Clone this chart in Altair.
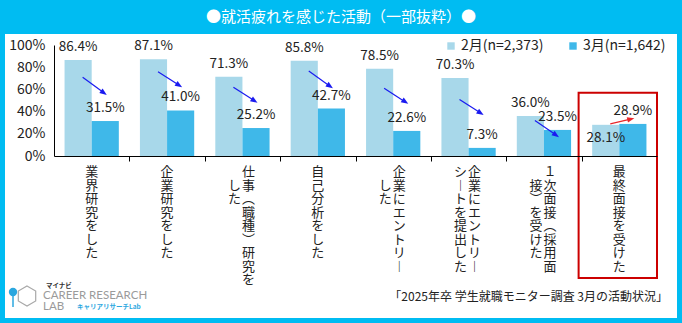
import math
import altair as alt
import pandas as pd

# ---------------- data ----------------
categories = [
    "業界研究をした",
    "企業研究をした",
    "仕事(職種)研究をした",
    "自己分析をした",
    "企業にエントリーした",
    "企業にエントリーシートを提出した",
    "1次面接(採用面接)を受けた",
    "最終面接を受けた",
]
# vertical label columns (right column first, as in Japanese vertical writing)
label_columns = [
    ["業界研究をした"],
    ["企業研究をした"],
    ["仕事︵職種︶研究を", "した"],
    ["自己分析をした"],
    ["企業にエントリ︱", "した"],
    ["企業にエントリ︱", "シ︱トを提出した"],
    ["１次面接︵採用面", "接︶を受けた"],
    ["最終面接を受けた"],
]
series_names = ["2月(n=2,373)", "3月(n=1,642)"]
feb_values = [86.4, 87.1, 71.3, 85.8, 78.5, 70.3, 36.0, 28.1]
mar_values = [31.5, 41.0, 25.2, 42.7, 22.6, 7.3, 23.5, 28.9]
y_ticks = [0, 20, 40, 60, 80, 100]
# arrow annotations (start / end heights in % units)
arrow_start = [71, 76, 62, 76.5, 61, 51, 32, 29]
arrow_end = [55, 62, 48, 61, 47, 37, 17, 34]
highlight_index = 7

title_text = "●就活疲れを感じた活動（一部抜粋）●"
source_text = "「2025年卒 学生就職モニター調査 3月の活動状況」"

# ---------------- style ----------------
FONT = "Noto Sans CJK JP"
LIGHT = "#A8D8EA"
DARK = "#3FB8E9"
FRAME = "#00BCF2"
W, H = 603, 111
PXX = W / len(categories)   # px per category unit
PXY = H / 100.0             # px per percent

# ---------------- tables ----------------
rows = []
for i in range(len(categories)):
    rows.append(dict(idx=i, cat=categories[i], s=0, series=series_names[0],
                     value=feb_values[i], below=mar_values[i] > feb_values[i]))
    rows.append(dict(idx=i, cat=categories[i], s=1, series=series_names[1],
                     value=mar_values[i], below=False))
df = pd.DataFrame(rows)

arrows = []
for i in range(len(categories)):
    xs, xe = i + 0.38, i + 0.70
    ys, ye = arrow_start[i], arrow_end[i]
    vx = (xe - xs) * PXX
    vy = (ys - ye) * PXY
    ang = math.degrees(math.atan2(vx, -vy)) % 360
    th = math.radians(ang)
    xh = xe - 4 * math.sin(th) / PXX
    yh = ye - 4 * math.cos(th) / PXY
    col = "#E8262A" if mar_values[i] > feb_values[i] else "#1A1AF0"
    arrows.append(dict(idx=i, xs=xs, ys=ys, xh=xh, yh=yh, ang=ang, col=col))
adf = pd.DataFrame(arrows)

lab = []
for i, cols in enumerate(label_columns):
    if len(cols) == 1:
        lab.append(dict(x=i + 0.5, pos="single", t="\n".join(cols[0])))
    else:
        r, l = cols
        off = (len(r) - len(l)) // 2
        lab.append(dict(x=i + 0.5, pos="right", t="\n".join(r)))
        lab.append(dict(x=i + 0.5, pos="left", t="\n".join(["\u3000"] * off + list(l))))
ldf = pd.DataFrame(lab)

xscale = alt.Scale(domain=[0, len(categories)], nice=False, zero=False)
yscale = alt.Scale(domain=[0, 100], nice=False, zero=False)
X_AXIS = alt.Axis(values=list(range(1, len(categories))), labels=False,
                  title=None, grid=False, ticks=True, tickSize=5,
                  tickColor="black", domainColor="black", zindex=1)
Y_AXIS = alt.Axis(values=y_ticks, title=None, grid=False, ticks=False,
                  labelExpr="datum.value + '%'", labelFontSize=14,
                  labelFont=FONT, labelColor="#222", labelPadding=9,
                  labelOverlap=False, labelFlush=False,
                  domainColor="black", zindex=1)


def X(f):
    return alt.X(f, scale=xscale, axis=X_AXIS, title=None)


def Y(f):
    return alt.Y(f, scale=yscale, axis=Y_AXIS, title=None)


# ---------------- layers ----------------
frame_bg = alt.Chart(pd.DataFrame({"a": [0]})).mark_rect(color="white").encode(
    x=alt.value(-49), x2=alt.value(623), y=alt.value(-11), y2=alt.value(273)
)

base = alt.Chart(df).transform_calculate(
    x0="datum.idx + (datum.s == 0 ? 0.14 : 0.5)",
    x1="datum.idx + (datum.s == 0 ? 0.5 : 0.86)",
    xc="datum.idx + (datum.s == 0 ? 0.32 : 0.68)",
    lbl="format(datum.value, '.1f') + '%'",
)

bars = base.mark_rect().encode(
    x=X("x0:Q"),
    x2="x1:Q",
    y=Y("value:Q"),
    y2=alt.datum(0),
    color=alt.Color("series:N",
                    scale=alt.Scale(domain=series_names, range=[LIGHT, DARK]),
                    legend=alt.Legend(orient="none", legendX=390, legendY=-6,
                                      direction="horizontal", title=None,
                                      symbolType="square", symbolSize=55,
                                      symbolStrokeWidth=0, labelFont=FONT,
                                      labelFontSize=14, labelColor="#222",
                                      labelOffset=3, columnPadding=22)),
)

labels_up = base.transform_filter("!datum.below").mark_text(
    dy=-13, font=FONT, fontSize=13.5, color="#222"
).encode(x=X("xc:Q"), y=Y("value:Q"), text="lbl:N")

labels_down = base.transform_filter("datum.below").mark_text(
    dy=13, font=FONT, fontSize=13.5, color="#222"
).encode(x=X("xc:Q"), y=Y("value:Q"), text="lbl:N")

arrow_lines = alt.Chart(adf).mark_rule(strokeWidth=1.2).encode(
    x=X("xs:Q"), x2="xh:Q",
    y=Y("ys:Q"), y2="yh:Q",
    stroke=alt.Stroke("col:N", scale=None),
)
arrow_heads = alt.Chart(adf).mark_point(
    shape="M0,-1L0.7,0.8L-0.7,0.8Z", filled=True, size=64, opacity=1, strokeWidth=0
).encode(
    x=X("xh:Q"), y=Y("yh:Q"),
    angle=alt.Angle("ang:Q", scale=None),
    fill=alt.Fill("col:N", scale=None),
)

cat_text = []
for pos, dx in [("single", 0), ("right", 6), ("left", -8)]:
    cat_text.append(
        alt.Chart(ldf).transform_filter(f"datum.pos == '{pos}'").mark_text(
            lineBreak="\n", lineHeight=13.5, baseline="top", align="center",
            dx=dx, font=FONT, fontSize=13, color="#222"
        ).encode(x=X("x:Q"), y=alt.value(121), text="t:N")
    )

box = alt.Chart(pd.DataFrame({"i": [highlight_index]})).transform_calculate(
    b0="datum.i - 0.04", b1="datum.i + 1"
).mark_rect(fill=None, stroke="#CC0000", strokeWidth=2).encode(
    x=X("b0:Q"), x2="b1:Q",
    y=alt.Y(datum=57, scale=yscale, axis=Y_AXIS, title=None), y2=alt.datum(-110),
)

one = pd.DataFrame({"a": [0]})
title = alt.Chart(one).mark_text(
    text=title_text, font=FONT, fontSize=15, color="white", align="center",
    baseline="middle"
).encode(x=alt.value(287), y=alt.value(-28))

source = alt.Chart(one).mark_text(
    text=source_text, font=FONT, fontSize=12, color="#222", align="right",
    baseline="middle"
).encode(x=alt.value(614), y=alt.value(252))

logo_parts = [
    alt.Chart(one).mark_text(text="マイナビ", font=FONT, fontSize=6.5, fontWeight="bold",
                             color="#333", align="left", baseline="middle"
                             ).encode(x=alt.value(-8), y=alt.value(241)),
    alt.Chart(one).mark_text(text="CAREER RESEARCH", font="Lato", fontSize=11.5,
                             color="#9A9A9A", align="left", baseline="middle"
                             ).encode(x=alt.value(-11), y=alt.value(251)),
    alt.Chart(one).mark_text(text="LAB", font="Lato", fontSize=11.5,
                             color="#9A9A9A", align="left", baseline="middle"
                             ).encode(x=alt.value(-11), y=alt.value(262)),
    alt.Chart(one).mark_text(text="キャリアリサーチLab", font=FONT, fontSize=6.5,
                             fontWeight="bold", color="#2BA7DF", align="left",
                             baseline="middle"
                             ).encode(x=alt.value(23), y=alt.value(262)),
    alt.Chart(one).mark_point(shape="M0,-1L0.87,-0.5L0.87,0.5L0,1L-0.87,0.5L-0.87,-0.5Z",
                              filled=False, size=400, color="#A8A8A8", strokeWidth=1.2,
                              opacity=1
                              ).encode(x=alt.value(-27), y=alt.value(251)),
    alt.Chart(one).mark_rule(stroke="#2BA7DF", strokeWidth=1.5).encode(
        x=alt.value(-41), x2=alt.value(-41), y=alt.value(247), y2=alt.value(262)),
    alt.Chart(one).mark_point(shape="circle", filled=True, size=70, color="#2BA7DF",
                              opacity=1).encode(x=alt.value(-41), y=alt.value(247)),
]

chart = alt.layer(
    frame_bg, bars, labels_up, labels_down, arrow_lines, arrow_heads,
    *cat_text, box, title, source, *logo_parts
).properties(
    width=W, height=H,
    autosize=alt.AutoSizeParams(type="none"),
    padding={"left": 54, "top": 45, "right": 25, "bottom": 167},
    background=FRAME,
).configure_view(stroke=None).configure_axis(labelOverlap=False)

chart.save("out.html", embed_options={"renderer": "svg", "actions": False})
